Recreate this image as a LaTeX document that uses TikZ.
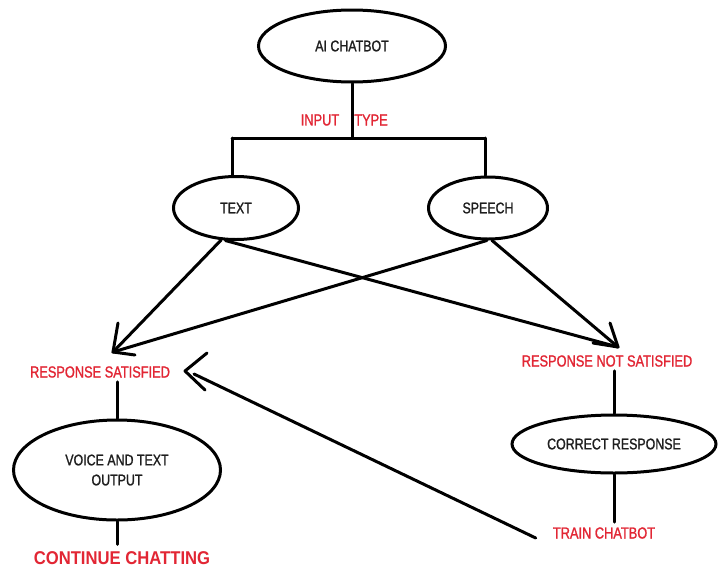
\documentclass[tikz,border=0pt]{standalone}
\usepackage{fontspec}
\setmainfont{Liberation Sans}[FakeStretch=0.8,FakeBold=1.2]
\newfontfamily\bigfont{Liberation Sans}[FakeStretch=0.9]
\usetikzlibrary{shapes.geometric}
\definecolor{lblred}{RGB}{226,38,52}
\definecolor{inktext}{RGB}{30,30,30}
\begin{document}
\begin{tikzpicture}[x=1pt,y=-1pt,
  ell/.style={ellipse, draw, line width=3pt, inner sep=0pt, text=inktext,
    font=\fontsize{15.5}{20}\selectfont},
  lbl/.style={text=lblred, font=\fontsize{16}{19}\selectfont, inner sep=0pt},
  conn/.style={line width=3pt, line cap=round, line join=round},
]
\fill[white] (0,0) rectangle (719,570);
\useasboundingbox (0,0) rectangle (719,570);

% nodes
\node[ell, minimum width=187pt, minimum height=72pt] (chat) at (352,46) {AI CHATBOT};
\node[lbl] (input) at (320,120) {INPUT};
\node[lbl] (type) at (371,120) {TYPE};
\node[ell, minimum width=125pt, minimum height=63pt] (text) at (236,208) {TEXT};
\node[ell, minimum width=119pt, minimum height=62pt] (speech) at (488,208) {SPEECH};
\node[lbl] (rs) at (100,372) {RESPONSE SATISFIED};
\node[lbl] (rns) at (607,361) {RESPONSE NOT SATISFIED};
\node[ell, minimum width=207pt, minimum height=100pt, align=center] (voice) at (117,470) {VOICE AND TEXT\\OUTPUT};
\node[ell, minimum width=204pt, minimum height=58pt] (correct) at (614,444) {CORRECT RESPONSE};
\node[lbl, font=\bigfont\bfseries\fontsize{18.5}{22}\selectfont] (cont) at (122,558) {CONTINUE CHATTING};
\node[lbl] (train) at (604,533) {TRAIN CHATBOT};

% tree from AI CHATBOT
\coordinate (jl) at (232,138);
\coordinate (jr) at (485,138);
\draw[conn] (chat.south) -- (chat.south |- jl);
\draw[conn] (jl) -- (jr);
\draw[conn] (jl) -- (jl |- text.north);
\draw[conn] (jr) -- (jr |- speech.north);

% crossing arrows
\coordinate (lt) at (113,352);
\coordinate (rt) at (618,347);
\draw[conn] (text.245) -- (lt);
\draw[conn] (speech.268) -- (lt);
\draw[conn] (text.252) -- (rt);
\draw[conn] (speech.277) -- (rt);
\draw[conn] ([shift={(5,-29)}]lt) -- (lt) -- ([shift={(22,3)}]lt);
\draw[conn] ([shift={(-8,-24)}]rt) -- (rt) -- ([shift={(-25,-4)}]rt);

% left column
\draw[conn] (voice.north |- rs.south) ++(0,4) -- (voice.north);
\draw[conn] (voice.south) -- ([yshift=7pt]voice.south |- cont.north);

% right column
\draw[conn] (correct.north |- rns.south) ++(0,4) -- (correct.north);
\draw[conn] (correct.south) -- ([yshift=5pt]correct.south |- train.north);

% feedback arrow from TRAIN CHATBOT back to RESPONSE SATISFIED
\coordinate (st) at (185,371);
\draw[conn] ([shift={(-17,5)}]train.west) -- ([shift={(9,3)}]st);
\draw[conn] ([shift={(22,-18)}]st) -- (st) -- ([shift={(20,19)}]st);
\end{tikzpicture}
\end{document}
